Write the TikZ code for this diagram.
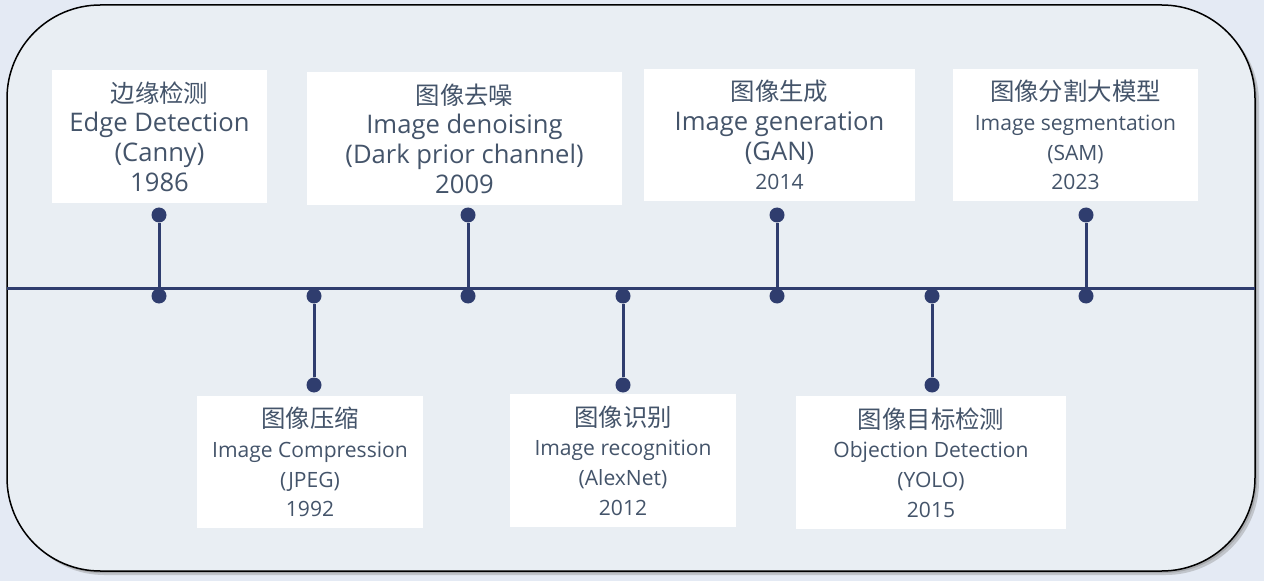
\documentclass[tikz,border=0pt]{standalone}
\usepackage{fontspec}
\setmainfont{Open Sans}
\newfontfamily\cjk{Noto Sans CJK SC}
\definecolor{bgblue}{RGB}{228,234,244}
\definecolor{panel}{RGB}{233,238,243}
\definecolor{navy}{RGB}{47,61,110}
\definecolor{txt}{RGB}{68,84,106}
\newdimen\pix \pix=0.75pt
\newcommand{\zh}[1]{{\cjk\fontsize{18.3}{22.3}\selectfont #1}}
\newcommand{\enbig}[1]{{\fontsize{19.2}{22.3}\selectfont #1}}
\newcommand{\ensmall}[1]{{\fontsize{15.8}{22.3}\selectfont #1}}

\begin{document}
\begin{tikzpicture}[x=0.75pt, y=-0.75pt]
\tikzstyle{event}=[fill=white, inner sep=0pt, align=center, text=txt, font=\fontsize{15.8}{22.3}\selectfont]
\tikzstyle{dot}=[circle, fill=navy, inner sep=0pt, minimum size=15\pix]
\tikzstyle{stem}=[draw=navy, line width=3\pix]

\fill[bgblue] (0,0) rectangle (1264,581);
\useasboundingbox (0,0) rectangle (1264,581);
\fill[gray, opacity=0.35, rounded corners=70pt] (11,9) rectangle (1259,575);
\fill[gray, opacity=0.4, rounded corners=70pt] (9,7) rectangle (1257,573);
\draw[fill=panel, rounded corners=70pt, line width=1.5\pix] (7,5) rectangle (1255,571);

\coordinate (tl0) at (7,288);
\coordinate (tl1) at (1255,288);
\draw[stem] (tl0) -- (tl1);

\foreach \i/\x in {1/159, 2/314, 3/468, 4/623, 5/777, 6/932, 7/1086}
  \node[dot] (d\i) at (\x,296) {};
\foreach \i/\x in {1/159, 3/468, 5/777, 7/1086}
  \node[dot] (p\i) at (\x,215) {};
\foreach \i/\x in {2/314, 4/623, 6/932}
  \node[dot] (p\i) at (\x,385) {};

\foreach \i in {1,...,7}
  \draw (p\i) edge[stem] (d\i);

\node[event, minimum width=215\pix, minimum height=133\pix] (canny) at (159.5,136.5)
  {\zh{边缘检测}\\\enbig{Edge Detection}\\\enbig{(Canny)}\\\enbig{1986}};
\node[event, minimum width=315\pix, minimum height=133\pix] (dcp) at (464.5,138.5)
  {\zh{图像去噪}\\\enbig{Image denoising}\\\enbig{(Dark prior channel)}\\\enbig{2009}};
\node[event, minimum width=271\pix, minimum height=132\pix] (gan) at (779.5,135)
  {\zh{图像生成}\\\enbig{Image generation}\\\enbig{(GAN)}\\\ensmall{2014}};
\node[event, minimum width=245\pix, minimum height=132\pix] (sam) at (1075.5,135)
  {\zh{图像分割大模型}\\\ensmall{Image segmentation}\\\ensmall{(SAM)}\\\ensmall{2023}};
\node[event, minimum width=226\pix, minimum height=132\pix] (jpeg) at (310,462)
  {\zh{图像压缩}\\\ensmall{Image Compression}\\\ensmall{(JPEG)}\\\ensmall{1992}};
\node[event, minimum width=226\pix, minimum height=133\pix] (alexnet) at (623,460.5)
  {\zh{图像识别}\\\ensmall{Image recognition}\\\ensmall{(AlexNet)}\\\ensmall{2012}};
\node[event, minimum width=270\pix, minimum height=133\pix] (yolo) at (931,462.5)
  {\zh{图像目标检测}\\\ensmall{Objection Detection}\\\ensmall{(YOLO)}\\\ensmall{2015}};
\end{tikzpicture}
\end{document}
